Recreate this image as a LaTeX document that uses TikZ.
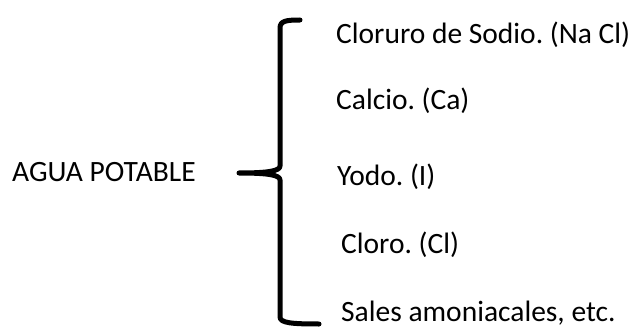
\documentclass[tikz,border=0pt]{standalone}
\usepackage{fontspec}
\setmainfont{Carlito}
\usetikzlibrary{positioning}
\tikzset{texto/.style={anchor=base west, inner sep=0pt, font=\fontsize{29.5}{35}\selectfont},
    llave/.style={line width=5pt, line cap=round, line join=round}}
\frenchspacing

\begin{document}
\begin{tikzpicture}[x=1pt,y=1pt]
        \useasboundingbox (0,0) rectangle (629,327);
        \node[texto] (agua) at (12,146) {AGUA POTABLE};
        \node[texto] (sodio) at (336,283) {Cloruro de Sodio. (Na Cl)};
        \node[texto] (calcio) at (336,217) {Calcio. (Ca)};
        \node[texto] (yodo) at (337,142) {Yodo. (I)};
        \node[texto] (cloro) at (341,74) {Cloro. (Cl)};
        \node[texto] (sales) at (341,6) {Sales amoniacales, etc.};
        \coordinate (sup) at (300,307);
        \coordinate (pico) at (239,154);
        \coordinate (inf) at (319,3);
        \draw[llave] (sup) .. controls (286,307) and (280,306) .. (280,299)
            -- (280,161) .. controls (280,156) and (268,154) .. (pico)
            .. controls (268,154) and (280,152) .. (280,147)
            -- (280,10) .. controls (280,4) and (292,3) .. (inf);
    \end{tikzpicture}
\end{document}
